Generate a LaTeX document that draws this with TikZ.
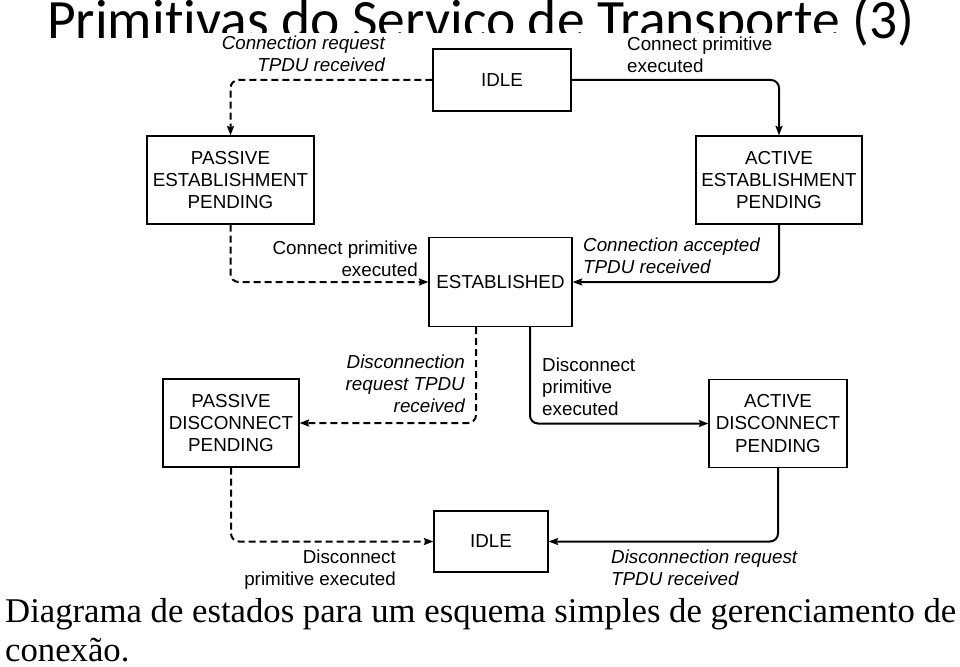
\documentclass[tikz,border=0pt]{standalone}
\usepackage{fontspec}
\setmainfont{Liberation Serif}
\newfontfamily\arialf{Liberation Sans}
\newfontfamily\calibrif[Ligatures=NoCommon]{Carlito}
\usetikzlibrary{arrows.meta}
\newcommand\lblstrut{\rule{0pt}{15pt}}
\newcommand\capstrut{\rule{0pt}{30pt}}
\begin{document}
\begin{tikzpicture}[x=1pt,y=-1pt,
  state/.style={draw=black, line width=1.2pt, fill=white, font=\arialf\fontsize{18.8}{22.3}\selectfont, align=center, inner sep=0pt},
  lbl/.style={font=\arialf\fontsize{18.8}{22.3}\selectfont, inner sep=0pt},
  ilbl/.style={font=\arialf\itshape\fontsize{18.8}{22.3}\selectfont, inner sep=0pt},
  conn/.style={line width=2pt, rounded corners=8pt, -{Stealth[length=9.5pt,width=7pt,inset=1.5pt]}},
  dconn/.style={conn, dash pattern=on 7pt off 4pt}]
\fill[white] (0,0) rectangle (960,666);
\useasboundingbox (0,0) rectangle (960,666);

% title, partly hidden by the diagram
\node[anchor=base west, inner sep=0pt, font=\calibrif\fontsize{55.5}{60}\selectfont] (title) at (47,39) {Primitivas do Serviço de Transporte (3)};
\fill[white] (155,33) rectangle (855,80);

% states
\node[state, minimum width=138pt, minimum height=62pt] (idle1) at (502,80) {IDLE};
\node[state, minimum width=167pt, minimum height=88pt] (pest) at (230.5,180) {PASSIVE\\ESTABLISHMENT\\PENDING};
\node[state, minimum width=166pt, minimum height=88pt] (aest) at (779,180) {ACTIVE\\ESTABLISHMENT\\PENDING};
\node[state, minimum width=143pt, minimum height=89pt] (est) at (500.5,282) {ESTABLISHED};
\node[state, minimum width=136pt, minimum height=88pt] (pdisc) at (231,423) {PASSIVE\\DISCONNECT\\PENDING};
\node[state, minimum width=138pt, minimum height=88pt] (adisc) at (778,423.5) {ACTIVE\\DISCONNECT\\PENDING};
\node[state, minimum width=114pt, minimum height=61pt] (idle2) at (491,541.5) {IDLE};

% transitions
\draw[dconn] (idle1.west) -| (pest.north);
\draw[conn] (idle1.east) -| (aest.north);
\draw[dconn] (pest.south) |- (est.west);
\draw[conn] (aest.south) |- (est.east);
\draw[dconn] ([xshift=-24.5pt]est.south) |- (pdisc.east);
\draw[conn] ([xshift=29.5pt]est.south) |- (adisc.west);
\draw[dconn] (pdisc.south) |- (idle2.west);
\draw[conn] (adisc.south) |- (idle2.east);

% labels
\node[ilbl, anchor=north east, align=right] (l1) at (385,34) {\lblstrut Connection request\\TPDU received};
\node[lbl, anchor=north west, align=left] (l2) at (627,35) {\lblstrut Connect primitive\\executed};
\node[lbl, anchor=north east, align=right] (l3) at (418,239) {\lblstrut Connect primitive\\executed};
\node[ilbl, anchor=north west, align=left] (l4) at (583,236) {\lblstrut Connection accepted\\TPDU received};
\node[ilbl, anchor=north east, align=right] (l5) at (465,353) {\lblstrut Disconnection\\request TPDU\\received};
\node[lbl, anchor=north west, align=left] (l6) at (542,356) {\lblstrut Disconnect\\primitive\\executed};
\node[lbl, anchor=north east, align=right] (l7) at (396,548) {\lblstrut Disconnect\\primitive executed};
\node[ilbl, anchor=north west, align=left] (l8) at (611,548) {\lblstrut Disconnection request\\TPDU received};

% caption
\node[anchor=north west, inner sep=0pt, align=left, font=\fontsize{34.7}{39.5}\selectfont] (cap) at (5,592) {\capstrut Diagrama de estados para um esquema simples de gerenciamento de\\conexão.};
\end{tikzpicture}
\end{document}
